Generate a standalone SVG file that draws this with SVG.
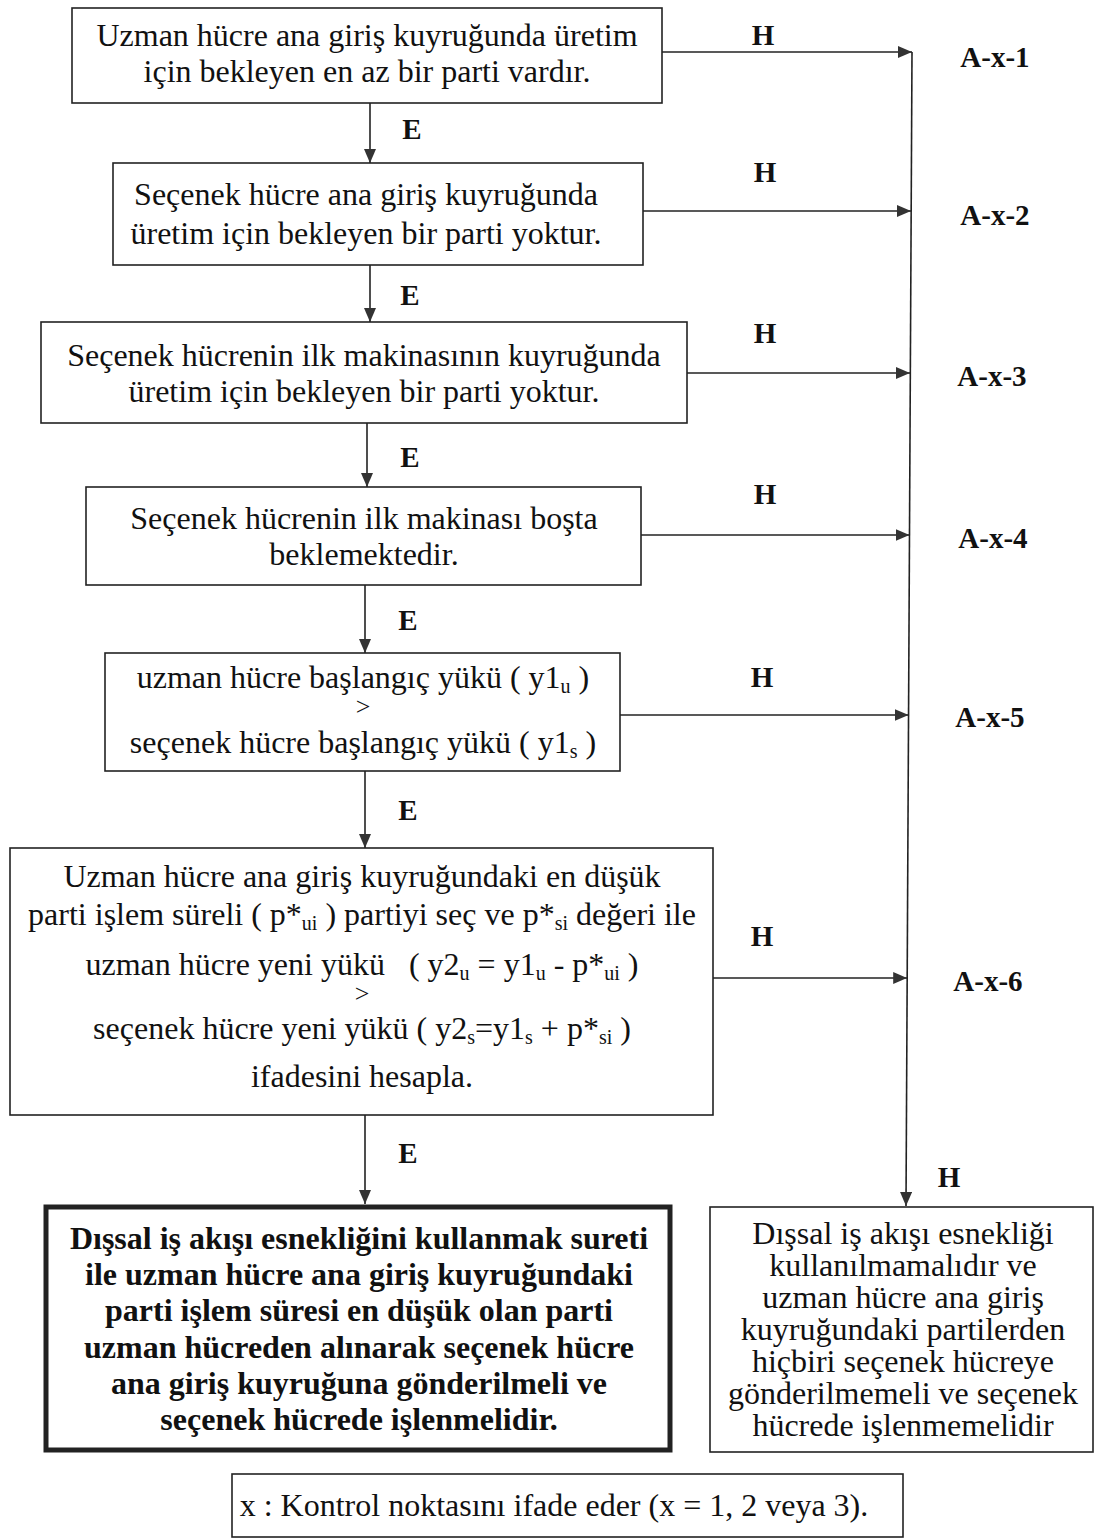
<svg xmlns="http://www.w3.org/2000/svg" width="1100" height="1540" viewBox="0 0 1100 1540">
  <style>
    .box { fill: #fff; stroke: #222; stroke-width: 1.6; }
    .bold-box { fill: #fff; stroke: #222; stroke-width: 5; }
    .t { font-family: "Liberation Serif", "Times New Roman", serif; font-size: 32px; fill: #111; text-anchor: middle; }
    .tb { font-family: "Liberation Serif", "Times New Roman", serif; font-size: 32px; font-weight: bold; fill: #111; text-anchor: middle; }
    .lbl { font-family: "Liberation Serif", "Times New Roman", serif; font-size: 29px; font-weight: bold; fill: #111; text-anchor: middle; }
    .gt { font-size: 26px; }
    .sub { font-size: 20px; }
    .wire { fill: none; stroke: #222; stroke-width: 1.6; }
  </style>
  <defs>
    <marker id="head" viewBox="0 0 14 12" refX="14" refY="6" markerWidth="14" markerHeight="12" markerUnits="userSpaceOnUse" orient="auto">
      <path d="M0,0 L14,6 L0,12 Z" fill="#333"/>
    </marker>
  </defs>
  <rect width="1100" height="1540" fill="#fff"/>

  <!-- connectors: E (yes) downwards, H (no) to the right-hand rail -->
  <g id="connectors">
    <line class="wire" x1="370" y1="103" x2="370" y2="163" marker-end="url(#head)"/>
    <line class="wire" x1="370" y1="265" x2="370" y2="322" marker-end="url(#head)"/>
    <line class="wire" x1="367" y1="423" x2="367" y2="487" marker-end="url(#head)"/>
    <line class="wire" x1="365" y1="585" x2="365" y2="653" marker-end="url(#head)"/>
    <line class="wire" x1="365" y1="771" x2="365" y2="848" marker-end="url(#head)"/>
    <line class="wire" x1="365" y1="1115" x2="365" y2="1204" marker-end="url(#head)"/>

    <line class="wire" x1="662" y1="52" x2="912" y2="52" marker-end="url(#head)"/>
    <line class="wire" x1="643" y1="211" x2="911" y2="211" marker-end="url(#head)"/>
    <line class="wire" x1="687" y1="373" x2="910" y2="373" marker-end="url(#head)"/>
    <line class="wire" x1="641" y1="535" x2="909.5" y2="535" marker-end="url(#head)"/>
    <line class="wire" x1="620" y1="715" x2="908.6" y2="715" marker-end="url(#head)"/>
    <line class="wire" x1="713" y1="978" x2="907.2" y2="978" marker-end="url(#head)"/>
    <line class="wire" x1="912" y1="52" x2="906" y2="1206" marker-end="url(#head)"/>

    <text class="lbl" x="763" y="45">H</text>
    <text class="lbl" x="765" y="182">H</text>
    <text class="lbl" x="765" y="343">H</text>
    <text class="lbl" x="765" y="504">H</text>
    <text class="lbl" x="762" y="687">H</text>
    <text class="lbl" x="762" y="946">H</text>
    <text class="lbl" x="949" y="1187">H</text>

    <text class="lbl" x="412" y="139">E</text>
    <text class="lbl" x="410" y="305">E</text>
    <text class="lbl" x="410" y="467">E</text>
    <text class="lbl" x="408" y="630">E</text>
    <text class="lbl" x="408" y="820">E</text>
    <text class="lbl" x="408" y="1163">E</text>

    <text class="lbl" x="995" y="67">A-x-1</text>
    <text class="lbl" x="995" y="225">A-x-2</text>
    <text class="lbl" x="992" y="386">A-x-3</text>
    <text class="lbl" x="993" y="548">A-x-4</text>
    <text class="lbl" x="990" y="727">A-x-5</text>
    <text class="lbl" x="988" y="991">A-x-6</text>
  </g>

  <g id="node1">
    <rect class="box" x="72" y="8" width="590" height="95"/>
    <text class="t" x="367" y="46">Uzman hücre ana giriş kuyruğunda üretim</text>
    <text class="t" x="367" y="82">için bekleyen en az bir parti vardır.</text>
  </g>

  <g id="node2">
    <rect class="box" x="113" y="163" width="530" height="102"/>
    <text class="t" x="366" y="205">Seçenek hücre ana giriş kuyruğunda</text>
    <text class="t" x="366" y="244">üretim için bekleyen bir parti yoktur.</text>
  </g>

  <g id="node3">
    <rect class="box" x="41" y="322" width="646" height="101"/>
    <text class="t" x="364" y="366">Seçenek hücrenin ilk makinasının kuyruğunda</text>
    <text class="t" x="364" y="402">üretim için bekleyen bir parti yoktur.</text>
  </g>

  <g id="node4">
    <rect class="box" x="86" y="487" width="555" height="98"/>
    <text class="t" x="364" y="529">Seçenek hücrenin ilk makinası boşta</text>
    <text class="t" x="364" y="565">beklemektedir.</text>
  </g>

  <g id="node5">
    <rect class="box" x="105" y="653" width="515" height="118"/>
    <text class="t" x="363" y="688">uzman hücre başlangıç yükü ( y1<tspan class="sub" dy="5">u</tspan><tspan dy="-5"> )</tspan></text>
    <text class="t gt" x="363" y="715">&gt;</text>
    <text class="t" x="363" y="753">seçenek hücre başlangıç yükü ( y1<tspan class="sub" dy="5">s</tspan><tspan dy="-5"> )</tspan></text>
  </g>

  <g id="node6">
    <rect class="box" x="10" y="848" width="703" height="267"/>
    <text class="t" x="362" y="887">Uzman hücre ana giriş kuyruğundaki en düşük</text>
    <text class="t" x="362" y="925">parti işlem süreli ( p*<tspan class="sub" dy="5">ui</tspan><tspan dy="-5"> ) partiyi seç ve p*</tspan><tspan class="sub" dy="5">si</tspan><tspan dy="-5"> değeri ile</tspan></text>
    <text class="t" x="362" y="975" xml:space="preserve">uzman hücre yeni yükü   ( y2<tspan class="sub" dy="5">u</tspan><tspan dy="-5"> = y1</tspan><tspan class="sub" dy="5">u</tspan><tspan dy="-5"> - p*</tspan><tspan class="sub" dy="5">ui</tspan><tspan dy="-5"> )</tspan></text>
    <text class="t gt" x="362" y="1002">&gt;</text>
    <text class="t" x="362" y="1039">seçenek hücre yeni yükü ( y2<tspan class="sub" dy="5">s</tspan><tspan dy="-5">=y1</tspan><tspan class="sub" dy="5">s</tspan><tspan dy="-5"> + p*</tspan><tspan class="sub" dy="5">si</tspan><tspan dy="-5"> )</tspan></text>
    <text class="t" x="362" y="1087">ifadesini hesapla.</text>
  </g>

  <g id="node7">
    <rect class="bold-box" x="46" y="1207" width="624" height="243"/>
    <text class="tb" x="359" y="1249">Dışsal iş akışı esnekliğini kullanmak sureti</text>
    <text class="tb" x="359" y="1285">ile uzman hücre ana giriş kuyruğundaki</text>
    <text class="tb" x="359" y="1321">parti işlem süresi en düşük olan parti</text>
    <text class="tb" x="359" y="1358">uzman hücreden alınarak seçenek hücre</text>
    <text class="tb" x="359" y="1394">ana giriş kuyruğuna gönderilmeli ve</text>
    <text class="tb" x="359" y="1430">seçenek hücrede işlenmelidir.</text>
  </g>

  <g id="node8">
    <rect class="box" x="710" y="1207" width="383" height="245"/>
    <text class="t" x="903" y="1244">Dışsal iş akışı esnekliği</text>
    <text class="t" x="903" y="1276">kullanılmamalıdır ve</text>
    <text class="t" x="903" y="1308">uzman hücre ana giriş</text>
    <text class="t" x="903" y="1340">kuyruğundaki partilerden</text>
    <text class="t" x="903" y="1372">hiçbiri seçenek hücreye</text>
    <text class="t" x="903" y="1404">gönderilmemeli ve seçenek</text>
    <text class="t" x="903" y="1436">hücrede işlenmemelidir</text>
  </g>

  <g id="legend">
    <rect class="box" x="232" y="1474" width="671" height="63"/>
    <text class="t" x="554" y="1516">x : Kontrol noktasını ifade eder (x = 1, 2 veya 3).</text>
  </g>
</svg>
